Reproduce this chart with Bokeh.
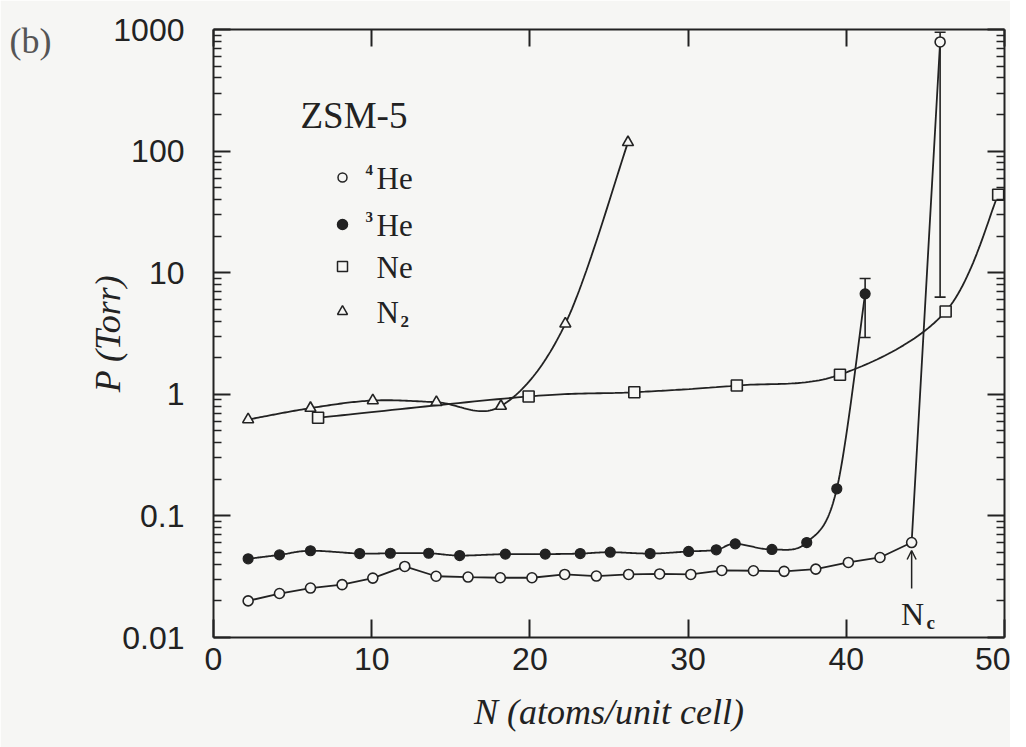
import numpy as np
from bokeh.plotting import figure
from bokeh.models import (Range1d, FixedTicker, LinearAxis, LogAxis, CustomJSTickFormatter,
                          Label, Arrow, OpenHead, Whisker, TeeHead, ColumnDataSource)
from bokeh.embed import file_html
from bokeh.resources import INLINE

# ---------------- data ----------------
he4_N = [2.19, 4.17, 6.13, 8.13, 10.07, 12.09, 14.07, 16.09, 18.13, 20.13, 22.2, 24.2,
         26.24, 28.2, 30.17, 32.13, 34.13, 36.07, 38.07, 40.13, 42.13, 44.13, 45.93]
he4_P = [0.020, 0.023, 0.0255, 0.0272, 0.0308, 0.0384, 0.0319, 0.0314, 0.031, 0.031, 0.033, 0.032,
         0.033, 0.0333, 0.033, 0.0356, 0.0354, 0.035, 0.0365, 0.0414, 0.0455, 0.0604, 790]

he3_N = [2.19, 4.17, 6.13, 9.24, 11.18, 13.6, 15.56, 18.45, 20.97, 23.18, 25.08, 27.6,
         30.03, 31.78, 32.98, 35.3, 37.5, 39.4, 41.19]
he3_P = [0.0444, 0.0478, 0.0517, 0.049, 0.0493, 0.0493, 0.0472, 0.0485, 0.0485, 0.049, 0.0503, 0.049,
         0.051, 0.0526, 0.0589, 0.053, 0.0604, 0.167, 6.7]

ne_N = [6.61, 19.92, 26.6, 33.08, 39.6, 46.28, 49.6]
ne_P = [0.641, 0.96, 1.04, 1.18, 1.45, 4.8, 43.7]

n2_N = [2.19, 6.13, 10.07, 14.09, 18.17, 22.24, 26.2]
n2_P = [0.62, 0.77, 0.889, 0.861, 0.80, 3.8, 118]

# error bars (4He last point, 3He last point)
err_N = [45.93, 41.19]
err_lo = [6.3, 2.93]
err_hi = [950, 8.96]

Nc_value = 44.13          # critical filling marked with the arrow

x_ticks = [0, 10, 20, 30, 40, 50]
y_ticks = [0.01, 0.1, 1, 10, 100, 1000]
y_minor = [k * 10.0 ** d for d in range(-2, 3) for k in range(2, 10)]

legend_names = ["He", "He", "Ne", "N"]
legend_sups = ["4", "3", "", ""]

# ---------------- styling ----------------
BG = "#f6f6f4"
INK = "#222222"
SERIF = "Liberation Serif"
SANS = "Liberation Sans"


def nx(xi):
    """image pixel x -> N (layout helper for annotations)"""
    return (xi - 213) * 50 / 791


def py(yi):
    """image pixel y -> P (layout helper for annotations)"""
    return 10 ** (3 - (yi - 29) * 5 / 608)


def smooth(xs, ys, n=30):
    """Catmull-Rom curve through the data points (in N, log P space)."""
    x = np.asarray(xs, float)
    y = np.log10(np.asarray(ys, float))
    px = np.concatenate([[x[0]], x, [x[-1]]])
    pyv = np.concatenate([[y[0]], y, [y[-1]]])
    t = np.linspace(0, 1, n, endpoint=False)
    ox, oy = [], []
    for i in range(len(x) - 1):
        x0, x1, x2, x3 = px[i:i + 4]
        y0, y1, y2, y3 = pyv[i:i + 4]
        for (a0, a1, a2, a3, out) in ((x0, x1, x2, x3, ox), (y0, y1, y2, y3, oy)):
            out.extend(0.5 * ((2 * a1) + (-a0 + a2) * t + (2 * a0 - 5 * a1 + 4 * a2 - a3) * t ** 2
                              + (-a0 + 3 * a1 - 3 * a2 + a3) * t ** 3))
    ox.append(x[-1])
    oy.append(y[-1])
    return ox, list(10 ** np.array(oy))


p = figure(width=1010, height=747, x_range=Range1d(0, 50), y_range=Range1d(0.01, 1000),
           y_axis_type="log", output_backend="svg", toolbar_location=None,
           min_border_left=213, min_border_right=6, min_border_top=29, min_border_bottom=110,
           background_fill_color=BG, border_fill_color=BG, outline_line_color=None)
p.grid.visible = False

# bottom axis
xa = p.xaxis[0]
xa.ticker = FixedTicker(ticks=x_ticks)
xa.major_tick_in = 18
xa.major_tick_out = 0
xa.minor_tick_line_color = None
xa.axis_line_width = 2
xa.axis_line_color = INK
xa.major_tick_line_width = 2
xa.major_tick_line_color = INK
xa.major_label_text_font = SANS
xa.major_label_text_font_size = "32px"
xa.major_label_text_color = INK
xa.major_label_standoff = 10
xa.axis_label = "N (atoms/unit cell)"
xa.axis_label_text_font = SERIF
xa.axis_label_text_font_size = "36px"
xa.axis_label_text_font_style = "italic"
xa.axis_label_text_color = INK
xa.axis_label_standoff = 19

# left axis
ya = p.yaxis[0]
ya.ticker = FixedTicker(ticks=y_ticks, minor_ticks=y_minor)
ya.formatter = CustomJSTickFormatter(code="return String(tick);")
ya.major_tick_in = 17
ya.major_tick_out = 0
ya.minor_tick_in = 8
ya.minor_tick_out = 0
ya.axis_line_width = 2
ya.axis_line_color = INK
ya.major_tick_line_width = 2
ya.major_tick_line_color = INK
ya.minor_tick_line_width = 1.6
ya.minor_tick_line_color = INK
ya.major_label_text_font = SANS
ya.major_label_text_font_size = "32px"
ya.major_label_text_color = INK
ya.major_label_standoff = 29
ya.axis_label = "P (Torr)"
ya.axis_label_text_font = SERIF
ya.axis_label_text_font_size = "36px"
ya.axis_label_text_font_style = "italic"
ya.axis_label_text_color = INK
ya.axis_label_standoff = -18

# panel tag "(b)" carried by a label-only axis on the left
p.extra_y_ranges = {"tag": Range1d(0, 1)}
tag_axis = LinearAxis(y_range_name="tag", ticker=FixedTicker(ticks=[0.931]),
                      formatter=CustomJSTickFormatter(code="return '(b)';"),
                      axis_line_color=None, major_tick_line_color=None, minor_tick_line_color=None,
                      major_label_text_font=SERIF, major_label_text_font_size="36px",
                      major_label_text_color="#555555", major_label_standoff=28)
p.add_layout(tag_axis, "left")

# right and top axes (ticks only)
ra = LogAxis(ticker=FixedTicker(ticks=y_ticks, minor_ticks=y_minor),
             formatter=CustomJSTickFormatter(code="return '';"),
             major_tick_in=17, major_tick_out=0, minor_tick_in=8, minor_tick_out=0,
             axis_line_width=2, axis_line_color=INK, major_tick_line_width=2,
             major_tick_line_color=INK, minor_tick_line_width=1.6, minor_tick_line_color=INK,
             major_label_standoff=0, major_label_text_font_size="1px")
p.add_layout(ra, "right")
ta = LinearAxis(ticker=FixedTicker(ticks=x_ticks),
                formatter=CustomJSTickFormatter(code="return '';"),
                major_tick_in=17, major_tick_out=0, minor_tick_line_color=None,
                axis_line_width=2, axis_line_color=INK, major_tick_line_width=2,
                major_tick_line_color=INK, major_label_standoff=0, major_label_text_font_size="1px")
p.add_layout(ta, "above")

LW = 1.8
# lines
p.line(he4_N, he4_P, line_color=INK, line_width=LW)
sx, sy = smooth(he3_N, he3_P)
p.line(sx, sy, line_color=INK, line_width=LW)
sx, sy = smooth(ne_N, ne_P)
p.line(sx, sy, line_color=INK, line_width=LW)
sx, sy = smooth(n2_N, n2_P)
p.line(sx, sy, line_color=INK, line_width=LW)

# error bars
esrc = ColumnDataSource(dict(x=err_N, lower=err_lo, upper=err_hi))
p.add_layout(Whisker(source=esrc, base="x", lower="lower", upper="upper", dimension="height",
                     line_color=INK, line_width=1.6,
                     upper_head=TeeHead(size=11, line_color=INK, line_width=1.6),
                     lower_head=TeeHead(size=11, line_color=INK, line_width=1.6)))

# markers
p.scatter(he4_N, he4_P, marker="circle", size=10, fill_color=BG, line_color=INK, line_width=1.6)
p.scatter(he3_N, he3_P, marker="circle", size=10, fill_color=INK, line_color=INK, line_width=1.2)
p.scatter(ne_N, ne_P, marker="square", size=11, fill_color=BG, line_color=INK, line_width=1.6)
p.scatter(n2_N, n2_P, marker="triangle", size=11, fill_color=BG, line_color=INK, line_width=1.6)

# legend (custom, as in the figure)
leg_y = [177, 224, 266, 311]
leg_markers = [("circle", 9, BG), ("circle", 10, INK), ("square", 10, BG), ("triangle", 10, BG)]
for (mk, sz, fc), yy in zip(leg_markers, leg_y):
    p.scatter([nx(342)], [py(yy)], marker=mk, size=sz, fill_color=fc, line_color=INK, line_width=1.5)
for name, sup, yy in zip(legend_names, legend_sups, leg_y):
    p.add_layout(Label(x=nx(376), y=py(yy + 1), text=name, text_font=SERIF, text_font_size="31px",
                       text_color=INK, text_align="left", text_baseline="middle"))
    if sup:
        p.add_layout(Label(x=nx(365), y=py(yy - 8), text=sup, text_font=SERIF, text_font_size="15px",
                           text_font_style="bold", text_color=INK, text_align="left",
                           text_baseline="middle"))
p.add_layout(Label(x=nx(400), y=py(leg_y[3] + 10), text="2", text_font=SERIF, text_font_size="17px",
                   text_font_style="bold", text_color=INK, text_align="left", text_baseline="middle"))

p.add_layout(Label(x=nx(300), y=py(115), text="ZSM-5", text_font=SERIF, text_font_size="37px",
                   text_color=INK, text_align="left", text_baseline="alphabetic"))

# N_c arrow and label
p.add_layout(Arrow(end=OpenHead(size=9, line_color=INK, line_width=1.5),
                   x_start=Nc_value, y_start=py(588), x_end=Nc_value, y_end=py(550),
                   line_color=INK, line_width=1.5))
p.add_layout(Label(x=nx(912), y=py(613), text="N", text_font=SERIF, text_font_size="32px",
                   text_color=INK, text_align="center", text_baseline="alphabetic"))
p.add_layout(Label(x=nx(926), y=py(622), text="c", text_font=SERIF, text_font_size="19px",
                   text_font_style="bold", text_color=INK, text_align="left", text_baseline="alphabetic"))

open("out.html", "w").write(file_html(p, INLINE))
